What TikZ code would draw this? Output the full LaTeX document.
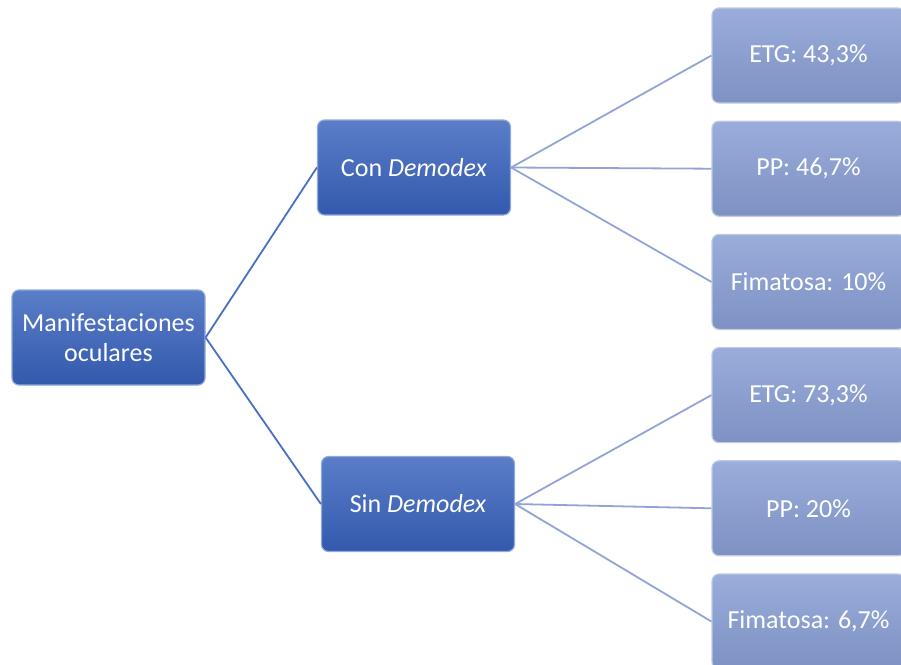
\documentclass[tikz,border=0pt]{standalone}
\usepackage{fontspec}
\setmainfont{Carlito}
\usetikzlibrary{positioning}
\definecolor{darkbox}{RGB}{55,97,188}
\definecolor{lightbox}{RGB}{136,158,212}
\definecolor{darkline}{RGB}{72,112,196}
\definecolor{lightline}{RGB}{146,164,214}
\tikzstyle{box} = [rectangle, rounded corners=7pt, line width=1.2pt, text=white, align=center, inner sep=0pt, minimum width=193pt, minimum height=95pt, font=\fontsize{26}{30}\selectfont]
\tikzstyle{mainbox} = [box, draw=darkbox!55!white, top color=darkbox!82!white, bottom color=darkbox!92!black]
\tikzstyle{leafbox} = [box, draw=lightbox!55!white, top color=lightbox!85!white, bottom color=lightbox!92!black]
\tikzstyle{mainedge} = [draw, line width=1.8pt, darkline]
\tikzstyle{leafedge} = [draw, line width=1.8pt, lightline]

\begin{document}
\begin{tikzpicture}[x=1pt, y=-1pt]

\useasboundingbox (0,0) rectangle (901,664);

% boxes ===================================

% nodes
\node[mainbox] (root) at (108.5,337.5) {Manifestaciones\\oculares};
\node[mainbox] (con) at (414,167.5) {Con \textit{Demodex}};
\node[mainbox] (sin) at (418,504) {Sin \textit{Demodex}};
\node[leafbox] (etg1) at (808.5,55.5) {ETG: 43,3\%};
\node[leafbox, below=17pt of etg1] (pp1) {PP: 46,7\%};
\node[leafbox, below=17pt of pp1] (fim1) {Fimatosa: 10\%};
\node[leafbox, below=17pt of fim1] (etg2) {ETG: 73,3\%};
\node[leafbox, below=17pt of etg2] (pp2) {PP: 20\%};
\node[leafbox, below=17pt of pp2] (fim2) {Fimatosa: 6,7\%};

% edges
\path[mainedge] (root.east) -- (con.west);
\path[mainedge] (root.east) -- (sin.west);
\path[leafedge] (con.east) -- (etg1.west);
\path[leafedge] (con.east) -- (pp1.west);
\path[leafedge] (con.east) -- (fim1.west);
\path[leafedge] (sin.east) -- (etg2.west);
\path[leafedge] (sin.east) -- (pp2.west);
\path[leafedge] (sin.east) -- (fim2.west);

\end{tikzpicture}
\end{document}
